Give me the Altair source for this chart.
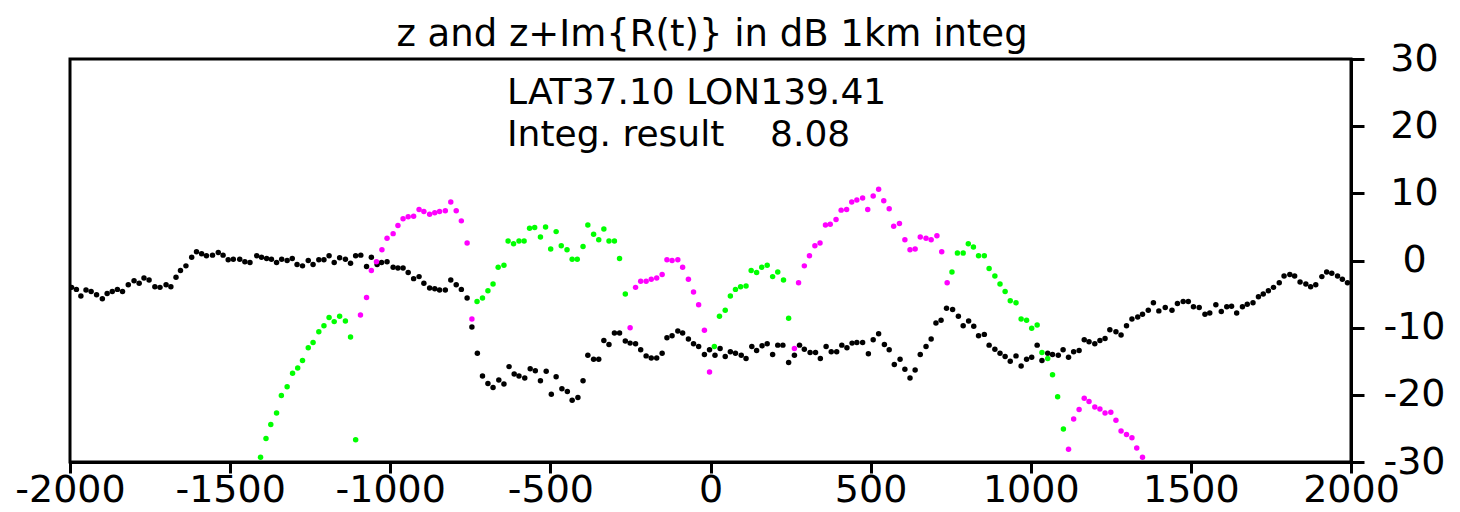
import altair as alt
import pandas as pd

# ---- data ----
black_x = [-1995, -1980, -1966, -1950, -1934, -1917, -1899, -1884, -1868, -1852, -1836, -1818, -1800, -1784,
           -1769, -1753, -1735, -1719, -1700, -1685, -1669, -1655, -1638, -1620, -1605, -1589, -1574, -1555,
           -1537, -1522, -1506, -1490, -1470, -1454, -1438, -1417, -1402, -1386, -1371, -1355, -1339, -1322,
           -1306, -1291, -1274, -1256, -1241, -1223, -1207, -1191, -1175, -1158, -1140, -1124, -1108, -1092,
           -1074, -1059, -1041, -1027, -1010, -991, -976, -960, -944, -927, -910, -895, -877, -861, -846,
           -828, -811, -794, -778, -760, -745, -728, -712, -695, -679, -661, -645, -629, -613, -598, -580,
           -563, -547, -531, -513, -497, -482, -464, -447, -432, -414, -398, -383, -365, -349, -333, -317,
           -300, -284, -266, -251, -234, -218, -201, -185, -168, -151, -136, -120, -102, -87, -69, -53, -37,
           -19, -3, 14, 30, 46, 62, 78, 96, 111, 129, 144, 161, 177, 194, 210, 226, 244, 262, 278, 293, 311,
           328, 343, 361, 377, 394, 410, 426, 442, 457, 475, 493, 508, 525, 543, 558, 574, 592, 607, 623,
           639, 655, 673, 689, 704, 720, 737, 756, 774, 789, 806, 822, 837, 855, 870, 888, 904, 920, 936,
           954, 970, 987, 1003, 1020, 1035, 1053, 1068, 1086, 1101, 1118, 1134, 1151, 1167, 1182, 1200,
           1216, 1232, 1247, 1266, 1282, 1299, 1316, 1334, 1349, 1367, 1383, 1400, 1420, 1441, 1458, 1476,
           1492, 1508, 1526, 1544, 1559, 1578, 1595, 1612, 1627, 1643, 1661, 1676, 1694, 1711, 1726, 1742,
           1758, 1776, 1791, 1809, 1824, 1841, 1859, 1874, 1890, 1909, 1924, 1940, 1958, 1973, 1989]
black_y = [-4.0, -4.3, -5.3, -4.4, -4.6, -5.1, -5.7, -4.9, -4.6, -4.3, -4.6, -3.6, -3.0, -3.4,
           -2.6, -2.9, -3.9, -4.0, -3.6, -3.9, -2.5, -1.5, -0.8, 0.5, 1.3, 1.0, 0.7, 0.8,
           1.2, 0.8, 0.1, 0.2, 0.2, -0.2, -0.3, 0.7, 0.5, 0.3, 0.2, -0.3, 0.2, 0.0,
           0.3, -0.6, -0.8, 0.0, -0.6, 0.1, 0.1, 0.7, -0.3, 0.4, 0.2, -0.4, 0.7, 0.8,
           -0.9, 0.5, -0.6, -0.3, -0.2, -1.0, -1.1, -1.1, -1.8, -2.7, -2.4, -3.4, -4.1, -4.2, -4.4,
           -4.4, -2.9, -3.6, -4.3, -5.6, -9.9, -13.8, -17.2, -18.3, -18.9, -17.8, -18.4, -15.8, -16.9, -17.2, -17.5,
           -16.1, -16.4, -17.9, -16.5, -19.9, -17.3, -19.1, -19.5, -20.8, -20.4, -17.9, -14.1, -14.7, -14.7, -11.9, -12.5,
           -10.8, -10.8, -12.0, -12.3, -12.4, -13.3, -14.2, -14.5, -14.5, -13.8, -11.5, -11.2, -10.5, -10.8, -11.7, -12.4, -12.8,
           -14.0, -13.3, -14.1, -13.1, -14.3, -13.6, -13.8, -14.1, -14.6, -12.8, -13.4, -12.7, -12.4, -14.0, -12.6, -12.6, -15.2, -14.1, -12.6, -13.2, -13.7,
           -13.7, -14.6, -12.8, -13.6, -13.6, -12.6, -13.0, -12.3, -12.2, -12.2, -13.9, -11.8, -10.9, -12.5, -13.3, -15.5, -14.7, -16.2, -17.5,
           -16.3, -14.0, -12.8, -11.7, -9.3, -8.9, -7.1, -7.3, -8.3, -9.7, -9.0, -9.8, -11.2, -11.0, -12.6, -13.2, -13.8, -14.3, -15.0,
           -14.2, -15.7, -14.7, -14.4, -12.6, -14.9, -13.8, -14.0, -14.1, -13.3, -14.4, -13.6, -13.4, -11.8, -12.1, -12.4,
           -11.9, -11.6, -10.3, -10.6, -11.1, -9.7, -8.7, -8.4, -8.0, -7.4, -6.3, -7.5, -7.0, -7.4, -6.4, -6.1,
           -6.1, -6.9, -7.0, -8.0, -7.8, -6.6, -7.6, -6.9, -6.8, -7.8, -6.9, -6.5, -6.3, -5.4, -5.0, -4.5,
           -4.0, -3.3, -2.3, -2.1, -2.3, -3.2, -3.5, -3.9, -3.6, -2.4, -1.7, -1.9, -2.3, -2.8, -3.3]

magenta_x = [-1093, -1074, -1059, -1043, -1026, -1010, -991, -976, -960, -944, -927, -910, -895, -877,
             -861, -846, -828, -811, -794, -778, -760, -745,
             -251, -234, -218, -201, -185, -168, -151, -136, -120, -102, -87, -69, -53, -37, -19, -3,
             262, 275, 293, 309, 326, 342, 359, 374, 392, 408, 425, 441, 457, 475, 491, 508, 525, 541,
             558, 572, 590, 607, 623, 639, 655, 673, 689, 707, 722, 739,
             1118, 1134, 1151, 1167, 1182, 1200, 1216, 1232, 1250, 1266, 1282, 1299, 1316, 1331, 1349]
magenta_y = [-8.1, -5.5, -1.5, -0.2, 1.6, 3.3, 4.0, 5.2, 6.2, 6.5, 6.6, 7.6, 7.3, 6.9,
             7.1, 7.3, 7.4, 8.7, 7.4, 5.9, 2.6, -8.7,
             -10.0, -4.0, -3.1, -3.1, -2.8, -2.6, -2.1, 0.1, 0.0, 0.1, -1.0, -2.8, -4.7, -6.6, -10.4, -16.6,
             -13.1, -3.3, -0.8, 0.7, 2.2, 2.6, 5.3, 5.4, 6.1, 7.5, 7.6, 8.7, 9.0, 9.3, 7.6, 9.6, 10.6, 8.9,
             7.7, 5.1, 5.5, 3.1, 1.6, 1.7, 3.5, 3.3, 3.1, 3.7, 1.3, -3.3,
             -28.1, -23.6, -22.2, -20.5, -21.0, -21.8, -22.1, -22.7, -22.6, -23.8, -25.4, -25.9, -26.4, -27.9, -29.3]

green_x = [-1405, -1388, -1373, -1355, -1340, -1322, -1305, -1289, -1274, -1256, -1241, -1223, -1207,
           -1191, -1175, -1158, -1140, -1124, -1108,
           -729, -712, -695, -679, -663, -645, -632, -615, -598, -582, -565, -549, -531, -515, -499,
           -482, -466, -448, -432, -416, -398, -383, -365, -349, -333, -317, -300, -284, -266,
           12, 28, 46, 62, 78, 94, 111, 127, 144, 160, 177, 194, 210, 228, 244,
           754, 771, 789, 805, 821, 837, 855, 870, 888, 904, 920, 936, 954, 970, 987, 1003, 1020,
           1035, 1053, 1068, 1084, 1102]
green_y = [-29.3, -26.5, -24.4, -22.7, -20.1, -18.8, -16.8, -16.0, -14.9, -13.0, -12.2, -10.6, -9.7,
           -8.5, -9.1, -8.3, -9.0, -11.4, -26.7,
           -6.1, -5.6, -4.5, -3.5, -1.0, -0.7, 2.9, 2.5, 2.9, 2.9, 4.8, 4.9, 3.5, 5.0, 1.7,
           4.3, 2.2, 1.6, 0.2, 0.2, 2.1, 5.3, 3.9, 3.1, 4.7, 2.9, 2.9, 0.3, -5.0,
           -12.8, -8.3, -7.4, -5.3, -4.3, -3.9, -3.8, -1.5, -1.8, -1.0, -0.7, -2.4, -1.7, -2.9, -8.6,
           -1.7, 1.1, 1.1, 2.5, 2.0, 0.7, 0.7, -1.2, -2.3, -3.5, -4.6, -6.0, -6.3, -8.7, -8.9, -10.1, -9.6,
           -13.7, -14.6, -17.0, -20.3, -25.1]

x_ticks = [-2000, -1500, -1000, -500, 0, 500, 1000, 1500, 2000]
y_ticks = [-30, -20, -10, 0, 10, 20, 30]

title_text = "z and z+Im{R(t)} in dB 1km integ"
info_line1 = "LAT37.10 LON139.41"
info_line2 = "Integ. result\u00a0\u00a0\u00a0\u00a08.08"

FONT = "DejaVu Sans"
W, H = 1281, 403

xscale = alt.Scale(domain=[-2000, 2000], nice=False, zero=False)
yscale = alt.Scale(domain=[-30, 30], nice=False, zero=False)

xaxis = alt.Axis(values=x_ticks, title=None, grid=False, tickSize=11, tickWidth=3, tickColor="black",
                 domainColor="black", domainWidth=3, labelFont=FONT, labelFontSize=38, labelColor="black",
                 labelBaseline="alphabetic", labelPadding=28, labelFlush=False, labelOverlap=False,
                 labelExpr="toString(datum.value)")
yaxis = alt.Axis(values=y_ticks, title=None, grid=False, orient="right", tickSize=13, tickWidth=3,
                 tickColor="black", domainColor="black", domainWidth=3, labelFont=FONT, labelFontSize=38,
                 labelColor="black", labelAlign="center", labelBaseline="middle", labelPadding=50,
                 labelFlush=False, labelOverlap=False, labelExpr="toString(datum.value)")


def series(xs, ys, color):
    df = pd.DataFrame({"x": xs, "y": ys})
    return alt.Chart(df).mark_point(filled=True, size=30, opacity=1, color=color, clip=True).encode(
        x=alt.X("x:Q", scale=xscale, axis=xaxis),
        y=alt.Y("y:Q", scale=yscale, axis=yaxis),
    )


black = series(black_x, black_y, "#000000")
magenta = series(magenta_x, magenta_y, "#ff00ff")
green = series(green_x, green_y, "#00ff00")

title = alt.Chart(pd.DataFrame({"t": [title_text]})).mark_text(
    font=FONT, fontSize=37, color="black", align="center", baseline="alphabetic"
).encode(text="t:N", x=alt.value(642), y=alt.value(-13))

info1 = alt.Chart(pd.DataFrame({"t": [info_line1]})).mark_text(
    font=FONT, fontSize=36, color="black", align="left", baseline="alphabetic"
).encode(text="t:N", x=alt.value(437), y=alt.value(45))

info2 = alt.Chart(pd.DataFrame({"t": [info_line2]})).mark_text(
    font=FONT, fontSize=36, color="black", align="left", baseline="alphabetic"
).encode(text="t:N", x=alt.value(437), y=alt.value(87))

chart = alt.layer(black, magenta, green, title, info1, info2).properties(
    width=W, height=H,
    autosize=alt.AutoSizeParams(type="none"),
    padding={"left": 70, "top": 59, "right": 1460 - 70 - W, "bottom": 512 - 59 - H},
    background="white",
).configure_view(stroke="black", strokeWidth=3)

chart.save("out.html", embed_options={"renderer": "svg", "actions": False})
